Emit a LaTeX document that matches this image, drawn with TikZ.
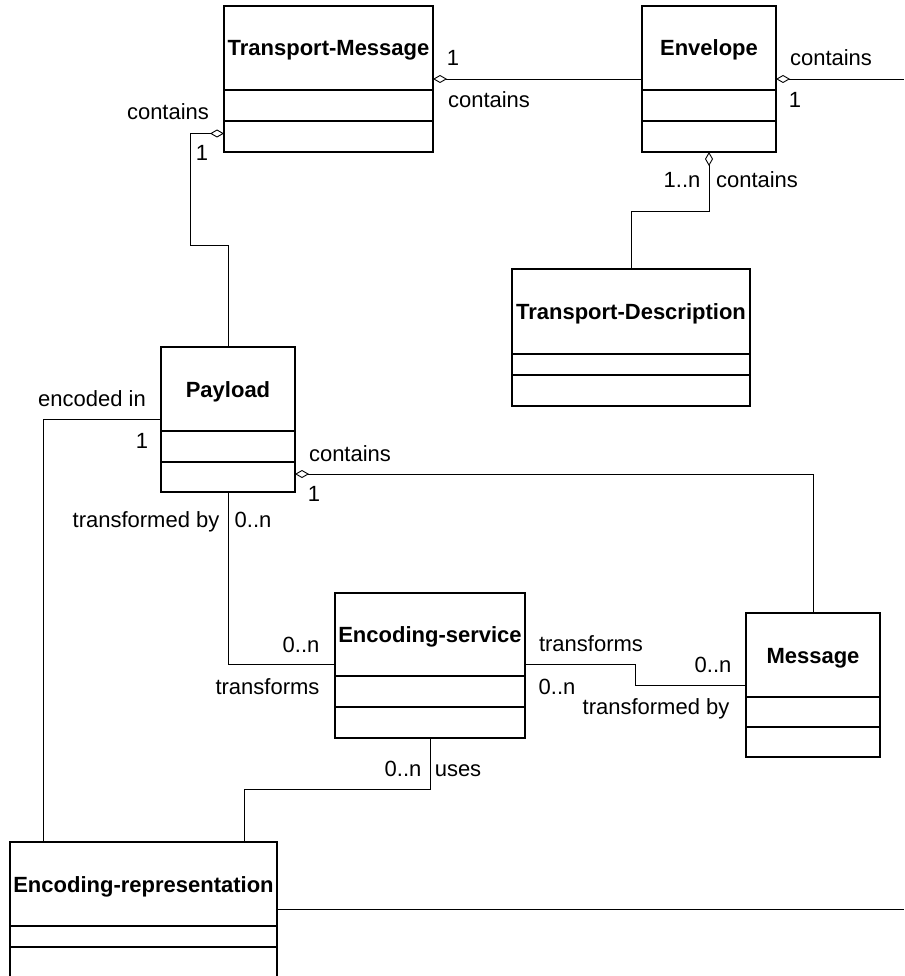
\documentclass[tikz,border=0pt]{standalone}
\usepackage{fontspec}
\setmainfont{Liberation Sans}
\usepackage{tikz}
\usetikzlibrary{positioning,arrows.meta}

\tikzset{
  clsname/.style={draw, rectangle, line width=1.3pt, inner sep=0pt, outer sep=0pt, text height=16pt, text depth=0pt, font=\bfseries\fontsize{22}{26}\selectfont},
  clsrow/.style={draw, rectangle, line width=1.3pt, inner sep=0pt, outer sep=0pt},
  assoc/.style={line width=0.9pt},
  agg/.style={line width=0.9pt, {Diamond[open,length=14pt,width=8pt]}-},
  lbl/.style={inner sep=0pt, text height=16pt, text depth=0pt, font=\fontsize{22}{26}\selectfont},
}

\begin{document}
\begin{tikzpicture}[x=1pt, y=-1pt]
 \useasboundingbox (0,0) rectangle (904,976);

 \node[clsname, minimum width=209pt, minimum height=84pt] (tm) at (328.5,48) {Transport-Message};
 \node[clsrow, minimum width=209pt, minimum height=31pt, below=0pt of tm] (tm-a) {};
 \node[clsrow, minimum width=209pt, minimum height=31pt, below=0pt of tm-a] (tm-o) {};

 \node[clsname, minimum width=134pt, minimum height=84pt] (env) at (709,48) {Envelope};
 \node[clsrow, minimum width=134pt, minimum height=31pt, below=0pt of env] (env-a) {};
 \node[clsrow, minimum width=134pt, minimum height=31pt, below=0pt of env-a] (env-o) {};

 \node[clsname, minimum width=238pt, minimum height=85pt] (td) at (631,311.5) {Transport-Description};
 \node[clsrow, minimum width=238pt, minimum height=21pt, below=0pt of td] (td-a) {};
 \node[clsrow, minimum width=238pt, minimum height=31pt, below=0pt of td-a] (td-o) {};

 \node[clsname, minimum width=134pt, minimum height=84pt] (pl) at (228,389) {Payload};
 \node[clsrow, minimum width=134pt, minimum height=31pt, below=0pt of pl] (pl-a) {};
 \node[clsrow, minimum width=134pt, minimum height=30pt, below=0pt of pl-a] (pl-o) {};

 \node[clsname, minimum width=190pt, minimum height=83pt] (es) at (430,634.5) {Encoding-service};
 \node[clsrow, minimum width=190pt, minimum height=31pt, below=0pt of es] (es-a) {};
 \node[clsrow, minimum width=190pt, minimum height=31pt, below=0pt of es-a] (es-o) {};

 \node[clsname, minimum width=134pt, minimum height=84pt] (msg) at (813,655) {Message};
 \node[clsrow, minimum width=134pt, minimum height=30pt, below=0pt of msg] (msg-a) {};
 \node[clsrow, minimum width=134pt, minimum height=30pt, below=0pt of msg-a] (msg-o) {};

 \node[clsname, minimum width=267pt, minimum height=84pt] (er) at (143.5,884) {Encoding-representation};
 \node[clsrow, minimum width=267pt, minimum height=21pt, below=0pt of er] (er-a) {};
 \node[clsrow, minimum width=267pt, minimum height=31pt, below=0pt of er-a] (er-o) {};

 \coordinate (envout) at (904,79);
 \coordinate (erout) at (904,909);

 \draw[agg] ([yshift=-31pt]tm.east) -- ([yshift=-31pt]env.west);
 \draw[agg] ([yshift=-31pt]env.east) -- (envout);
 \draw[agg] (env-o.south) -- ++(0,59) -| (td.north);
 \draw[agg] ([yshift=3pt]tm-o.west) -- ++(-34,0) -- ++(0,112) -| (pl.north);
 \draw[assoc] ([yshift=-30pt]pl.west) -| ([xshift=33pt]er.north west);
 \draw[agg] ([yshift=3pt]pl-o.east) -| (msg.north);
 \draw[assoc] (pl-o.south) |- ([yshift=-29.5pt]es.west);
 \draw[assoc] ([yshift=-30pt]es.east) -- ++(110,0) |- ([yshift=-30pt]msg.west);
 \draw[assoc] (es-o.south) -- ++(0,51) -| ([xshift=100.5pt]er.north);
 \draw[assoc] ([yshift=-25pt]er.east) -- (erout);

 \node[lbl] (l1) at (453,58) {1};
 \node[lbl] (l2) at (489,100) {contains};
 \node[lbl] (l3) at (168,112) {contains};
 \node[lbl] (l4) at (202,153) {1};
 \node[lbl] (l5) at (831,58) {contains};
 \node[lbl] (l6) at (795,100) {1};
 \node[lbl] (l7) at (682,180) {1..n};
 \node[lbl] (l8) at (757,180) {contains};
 \node[lbl] (l9) at (92,398) {encoded in};
 \node[lbl] (l10) at (142,440) {1};
 \node[lbl] (l11) at (350,453) {contains};
 \node[lbl] (l12) at (314,493) {1};
 \node[lbl] (l13) at (146,519) {transformed by};
 \node[lbl] (l14) at (253,519) {0..n};
 \node[lbl] (l15) at (301,644) {0..n};
 \node[lbl] (l16) at (267.5,686) {transforms};
 \node[lbl] (l17) at (591,643) {transforms};
 \node[lbl] (l18) at (557,686) {0..n};
 \node[lbl] (l19) at (713,664) {0..n};
 \node[lbl] (l20) at (656,706) {transformed by};
 \node[lbl] (l21) at (403,768) {0..n};
 \node[lbl] (l22) at (458,768) {uses};
\end{tikzpicture}
\end{document}
